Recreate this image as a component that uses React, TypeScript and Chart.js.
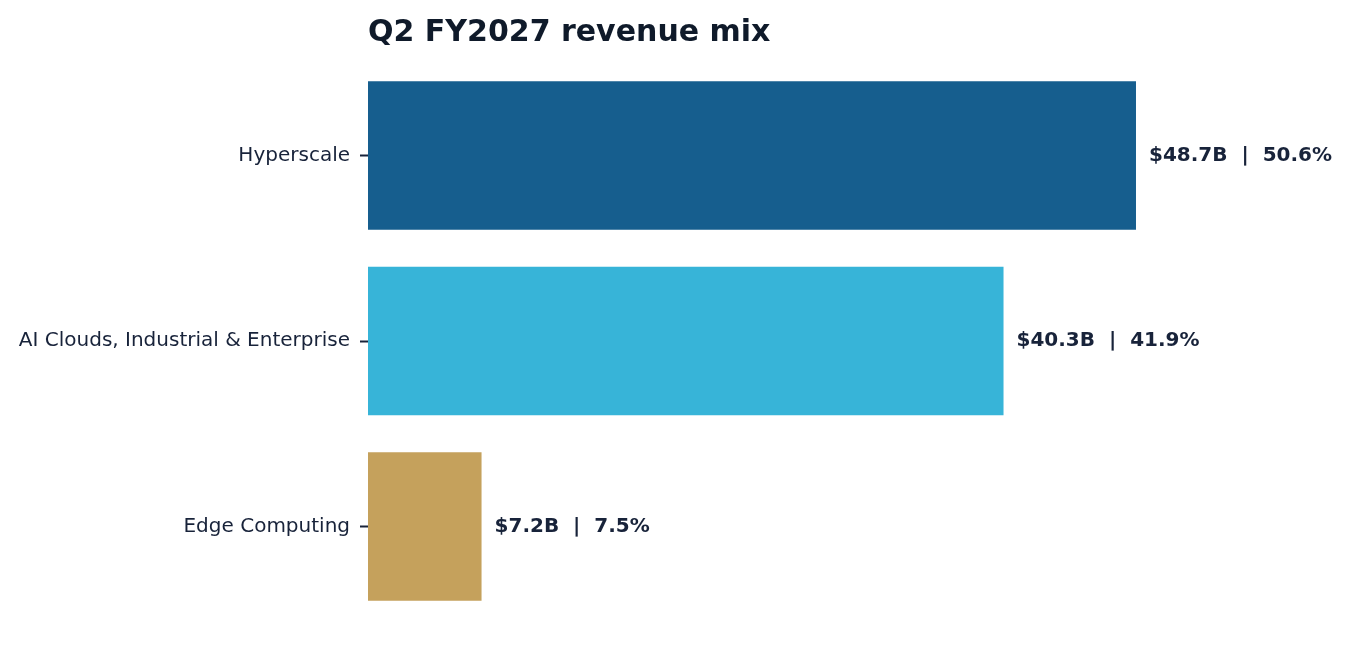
import React, { useEffect, useRef } from "react";
import { Chart, registerables, Plugin } from "chart.js";

Chart.register(...registerables);

const segments = ["Hyperscale", "AI Clouds, Industrial & Enterprise", "Edge Computing"];
const revenueB = [48.7, 40.3, 7.2];
const sharePct = [50.6, 41.9, 7.5];
const barColors = ["#165e8e", "#37b4d8", "#c5a15c"];

const TEXT = "#18233a";
const FONT = "'DejaVu Sans', sans-serif";

const valueLabels: Plugin<"bar"> = {
  id: "valueLabels",
  afterDatasetsDraw: chart => {
    const ctx = chart.ctx;
    const meta = chart.getDatasetMeta(0);
    ctx.save();
    ctx.font = `bold 20px ${FONT}`;
    ctx.fillStyle = TEXT;
    ctx.textAlign = "left";
    ctx.textBaseline = "middle";
    meta.data.forEach((bar, i) => {
      const { x, y } = bar.getProps(["x", "y"], true);
      ctx.fillText(`$${revenueB[i].toFixed(1)}B  |  ${sharePct[i].toFixed(1)}%`, x + 13, y);
    });
    ctx.restore();
  },
};

const RevenueMix: React.FC = () => {
  const canvas = useRef<HTMLCanvasElement>(null);

  useEffect(() => {
    const chart = new Chart(canvas.current!.getContext("2d")!, {
      type: "bar",
      data: {
        labels: segments,
        datasets: [
          {
            data: revenueB,
            backgroundColor: barColors,
            borderWidth: 0,
            categoryPercentage: 1,
            barPercentage: 0.8,
          },
        ],
      },
      options: {
        indexAxis: "y",
        responsive: true,
        maintainAspectRatio: false,
        animation: false,
        layout: {
          padding: { top: 0, right: 0, bottom: 17.75, left: 0 },
        },
        scales: {
          x: {
            display: false,
            min: 0,
            max: 61.7,
          },
          y: {
            afterFit: scale => {
              scale.width = 360;
              // labels sit mid-band, no need for the extra edge room
              scale.paddingTop = 0;
              scale.paddingBottom = 0;
            },
            border: { display: false },
            grid: {
              display: true,
              offset: false,
              drawOnChartArea: false,
              drawTicks: true,
              tickLength: 8,
              tickWidth: 2,
              tickColor: TEXT,
            },
            ticks: {
              padding: 10,
              color: TEXT,
              font: { family: FONT, size: 20 },
            },
          },
        },
        plugins: {
          legend: { display: false },
          tooltip: { enabled: false },
          title: {
            display: true,
            text: "Q2 FY2027 revenue mix",
            align: "start",
            fullSize: false,
            color: "#0f1a2a",
            font: { family: FONT, size: 30, weight: "bold" },
            padding: { top: 7, bottom: 11.75 },
          },
        },
      },
      plugins: [valueLabels],
    });

    return () => {
      chart.destroy();
    };
  }, []);

  return (
    <div style={{ position: "relative", width: 1333, height: 629 }}>
      <canvas ref={canvas}></canvas>
    </div>
  );
};

export default function App() {
  return <RevenueMix />;
}
